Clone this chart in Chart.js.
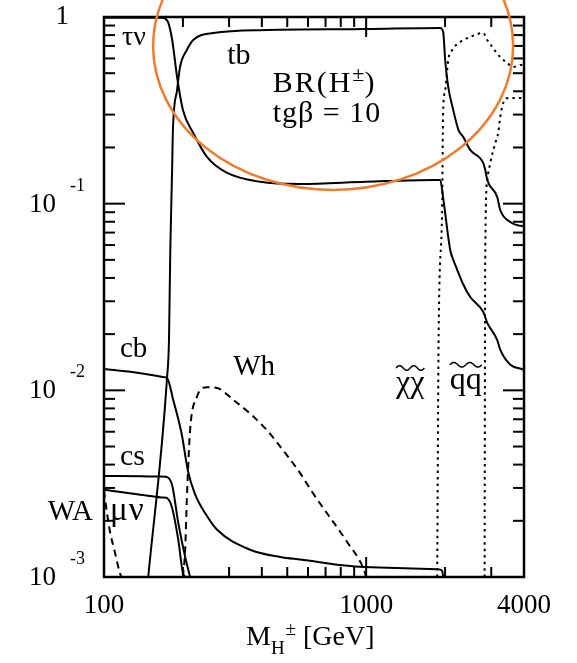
<!DOCTYPE html>
<html>
<head>
<meta charset="utf-8">
<script src="https://cdn.jsdelivr.net/npm/chart.js"></script>
<style>
  html, body { margin: 0; padding: 0; background: #fff; overflow: hidden; }
  #wrap { width: 577px; height: 663px; position: relative; }
</style>
</head>
<body>
<div id="wrap"><canvas id="myChart"></canvas></div>
<script>
// BR(H+-) vs M_H+- at tg(beta) = 10
const tauNuMass = [100, 167, 172, 176, 182, 190, 200, 219, 247, 295, 394, 560, 1000, 1800, 1916, 1967, 2092, 2130, 2225, 2344, 2495, 2797, 2897, 3162, 3246, 3548, 3973, 4000];
const tauNuBR = [0.99, 0.99, 0.975, 0.93, 0.753, 0.477, 0.318, 0.239, 0.178, 0.146, 0.131, 0.1275, 0.131, 0.134, 0.134, 0.107, 0.0565, 0.0518, 0.0442, 0.037, 0.0316, 0.0263, 0.023, 0.0186, 0.0165, 0.0137, 0.0129, 0.0128];

const tbMass = [147.5, 174, 177, 179, 182, 183, 190, 195, 207, 219, 261, 419, 1000, 1916, 1967, 2002, 2056, 2148, 2250, 2344, 2495, 2797, 2845, 2897, 3162, 3246, 3548, 3973, 4000];
const tbBR = [0.001, 0.0117, 0.0187, 0.0566, 0.157, 0.239, 0.406, 0.54, 0.666, 0.753, 0.821, 0.852, 0.862, 0.873, 0.831, 0.588, 0.422, 0.318, 0.248, 0.228, 0.194, 0.165, 0.152, 0.134, 0.1086, 0.0925, 0.0798, 0.076, 0.076];

const cbMass = [100, 130, 160, 170, 174, 184, 198, 209, 222, 243, 270, 361, 470, 560, 974, 1866, 1950, 1967];
const cbBR = [0.013, 0.0125, 0.01195, 0.01175, 0.01165, 0.0088, 0.0058, 0.0037, 0.0028, 0.0022, 0.00179, 0.0014, 0.00128, 0.00124, 0.00113, 0.0011, 0.00108, 0.001];

const csMass = [100, 140, 165, 172, 174, 182, 192, 204, 213];
const csBR = [0.00348, 0.00346, 0.00345, 0.00344, 0.00343, 0.0031, 0.00195, 0.00128, 0.001];

const muNuMass = [100, 140, 165, 172, 174, 181.5, 192, 200, 205];
const muNuBR = [0.00293, 0.00275, 0.00267, 0.00266, 0.00265, 0.00237, 0.00158, 0.00105, 0.001];

const waMass = [100, 101, 105, 110, 115, 116.5];
const waBR = [0.0029, 0.0026, 0.0018, 0.00136, 0.00105, 0.001];

const whMass = [200, 204, 207, 213, 226, 247, 270, 311, 361, 419, 470, 560, 628, 846, 974, 1000];
const whBR = [0.001, 0.0014, 0.0026, 0.0061, 0.0092, 0.0104, 0.0103, 0.0089, 0.0075, 0.0061, 0.0050, 0.0036, 0.0028, 0.00154, 0.00112, 0.001];

const chiMass = [1866, 1890, 1950, 1965, 2002, 2056, 2130, 2284, 2495, 2797, 2897, 3026, 3246, 3452, 3642, 3873, 4000];
const chiBR = [0.001, 0.02, 0.1, 0.3, 0.406, 0.588, 0.666, 0.735, 0.782, 0.821, 0.753, 0.691, 0.61, 0.567, 0.54, 0.553, 0.553];

const squarkMass = [2830, 2845, 2897, 2974, 3107, 3191, 3246, 3333, 3483, 3873, 4000];
const squarkBR = [0.001, 0.05, 0.134, 0.165, 0.211, 0.24, 0.291, 0.346, 0.368, 0.368, 0.368];

// axis ticks
const xTickValues = [100, 1000, 4000];
const xTickLabels = ['100', '1000', '4000'];
const xMinorValues = [200, 300, 400, 500, 600, 700, 800, 900, 2000, 3000];
const yDecades = [1, 0.1, 0.01, 0.001];
const yExponents = ['', '-1', '-2', '-3'];

const serif = '"Liberation Serif", "Times New Roman", serif';

function toPoints(xs, ys) {
  return xs.map((m, i) => ({ x: m, y: ys[i] }));
}

function curve(data, dash) {
  return {
    data: data,
    borderColor: '#000',
    borderWidth: 2,
    borderDash: dash || [],
    cubicInterpolationMode: 'monotone',
  };
}

// curve labels, placed at (mass, BR) of their left baseline
const curveLabels = [
  { text: 'τν', m: 117, br: 0.71, size: 28 },
  { text: 'tb', m: 295, br: 0.56, size: 30 },
  { text: 'cb', m: 115, br: 0.0151, size: 29 },
  { text: 'Wh', m: 311, br: 0.0121, size: 29 },
  { text: 'cs', m: 115, br: 0.0040, size: 30 },
  { text: 'WA', m: 61, br: 0.00202, size: 29 },
  { text: 'μν', m: 105.4, br: 0.00202, size: 33, spacing: '1px' },
];

function drawTilde(ctx, cx, cy, w) {
  ctx.beginPath();
  for (let i = 0; i <= 24; i++) {
    const t = i / 24;
    const px = cx - w / 2 + t * w;
    const py = cy - 2.3 * Math.sin(2 * Math.PI * t);
    if (i === 0) ctx.moveTo(px, py); else ctx.lineTo(px, py);
  }
  ctx.stroke();
}

function tildeText(ctx, text, x, y) {
  ctx.textAlign = 'left';
  ctx.fillText(text, x, y);
  let cur = x;
  ctx.lineWidth = 1.5;
  for (const ch of text) {
    const w = ctx.measureText(ch).width;
    drawTilde(ctx, cur + w / 2, y - 24, w);
    cur += w;
  }
}

const decorations = {
  id: 'decorations',
  afterDraw(chart) {
    const { ctx, chartArea: a, scales: { x, y } } = chart;
    ctx.save();
    ctx.strokeStyle = '#000';
    ctx.fillStyle = '#000';
    ctx.lineCap = 'butt';

    function seg(x1, y1, x2, y2) {
      ctx.beginPath();
      ctx.moveTo(x1, y1);
      ctx.lineTo(x2, y2);
      ctx.stroke();
    }

    // inward ticks on all four sides
    ctx.lineWidth = 2;
    xMinorValues.forEach(v => {
      const px = x.getPixelForValue(v);
      seg(px, a.bottom, px, a.bottom - 10);
      seg(px, a.top, px, a.top + 10);
    });
    const px1000 = x.getPixelForValue(1000);
    seg(px1000, a.bottom, px1000, a.bottom - 20);
    seg(px1000, a.top, px1000, a.top + 20);

    for (let d = 1; d < yDecades.length; d++) {
      const base = yDecades[d];
      for (let k = 2; k <= 9; k++) {
        const py = y.getPixelForValue(base * k);
        seg(a.left, py, a.left + 11, py);
        seg(a.right, py, a.right - 11, py);
      }
      if (d < yDecades.length - 1) {
        const py = y.getPixelForValue(base);
        seg(a.left, py, a.left + 21, py);
        seg(a.right, py, a.right - 21, py);
      }
    }

    // frame
    ctx.lineWidth = 2.5;
    ctx.strokeRect(a.left, a.top, a.right - a.left, a.bottom - a.top);

    // x tick labels
    ctx.font = '27px ' + serif;
    ctx.textAlign = 'center';
    ctx.textBaseline = 'alphabetic';
    xTickValues.forEach((v, i) => {
      ctx.fillText(xTickLabels[i], x.getPixelForValue(v), a.bottom + 36);
    });

    // y tick labels
    yDecades.forEach((v, i) => {
      const py = y.getPixelForValue(v);
      ctx.textBaseline = 'middle';
      ctx.textAlign = 'right';
      ctx.font = '27px ' + serif;
      if (i === 0) {
        ctx.fillText('1', a.left - 35, py);
        return;
      }
      ctx.fillText('10', a.left - 48, py + 1);
      ctx.textAlign = 'left';
      ctx.textBaseline = 'alphabetic';
      ctx.font = '18px ' + serif;
      ctx.fillText(yExponents[i], a.left - 34, py - 13);
    });

    // axis title: M_H± [GeV]
    ctx.textAlign = 'left';
    ctx.textBaseline = 'alphabetic';
    let tx = 246;
    const ty = a.bottom + 68;
    ctx.font = '28px ' + serif;
    ctx.fillText('M', tx, ty);
    tx += ctx.measureText('M').width;
    ctx.font = '19px ' + serif;
    ctx.fillText('H', tx, ty + 9);
    tx += ctx.measureText('H').width + 1;
    ctx.fillText('±', tx, ty - 10);
    tx += ctx.measureText('±').width;
    ctx.font = '28px ' + serif;
    ctx.fillText(' [GeV]', tx, ty);

    // curve labels
    curveLabels.forEach(l => {
      ctx.font = l.size + 'px ' + serif;
      ctx.letterSpacing = l.spacing || '0px';
      ctx.fillText(l.text, x.getPixelForValue(l.m), y.getPixelForValue(l.br));
    });

    // BR(H±) and tgβ = 10
    ctx.font = '30px ' + serif;
    ctx.letterSpacing = '2px';
    let bx = x.getPixelForValue(440);
    const by = y.getPixelForValue(0.396);
    ctx.fillText('BR(H', bx, by);
    bx += ctx.measureText('BR(H').width;
    ctx.letterSpacing = '0px';
    ctx.font = '22px ' + serif;
    ctx.fillText('±', bx, by - 11);
    bx += ctx.measureText('±').width;
    ctx.font = '30px ' + serif;
    ctx.fillText(')', bx, by);
    ctx.letterSpacing = '1px';
    ctx.fillText('tgβ = 10', x.getPixelForValue(440), y.getPixelForValue(0.274));
    ctx.letterSpacing = '0px';

    // sparticle channel labels with tildes
    ctx.font = '32px ' + serif;
    tildeText(ctx, 'χχ', x.getPixelForValue(1300), y.getPixelForValue(0.0098));
    tildeText(ctx, 'qq', x.getPixelForValue(2085), y.getPixelForValue(0.0102));

    // orange highlight ring
    ctx.strokeStyle = '#ED7D31';
    ctx.lineWidth = 2.5;
    ctx.beginPath();
    ctx.ellipse(x.getPixelForValue(748), y.getPixelForValue(0.7), 180, 144, 0, 0, Math.PI * 2);
    ctx.stroke();
    ctx.restore();
  }
};

new Chart(document.getElementById('myChart'), {
  type: 'line',
  data: {
    datasets: [
      curve(toPoints(tauNuMass, tauNuBR)),
      curve(toPoints(tbMass, tbBR)),
      curve(toPoints(cbMass, cbBR)),
      curve(toPoints(csMass, csBR)),
      curve(toPoints(muNuMass, muNuBR)),
      curve(toPoints(waMass, waBR), [7, 5]),
      curve(toPoints(whMass, whBR), [7, 5]),
      curve(toPoints(chiMass, chiBR), [2.5, 4]),
      curve(toPoints(squarkMass, squarkBR), [2.5, 4]),
    ],
  },
  options: {
    responsive: true,
    maintainAspectRatio: false,
    animation: false,
    layout: { padding: { left: 104, right: 53, top: 17, bottom: 86 } },
    elements: { point: { radius: 0 } },
    plugins: { legend: { display: false }, tooltip: { enabled: false } },
    scales: {
      x: { type: 'logarithmic', min: 100, max: 4000, display: false },
      y: { type: 'logarithmic', min: 0.001, max: 1, display: false },
    },
  },
  plugins: [decorations],
});
</script>
</body>
</html>
